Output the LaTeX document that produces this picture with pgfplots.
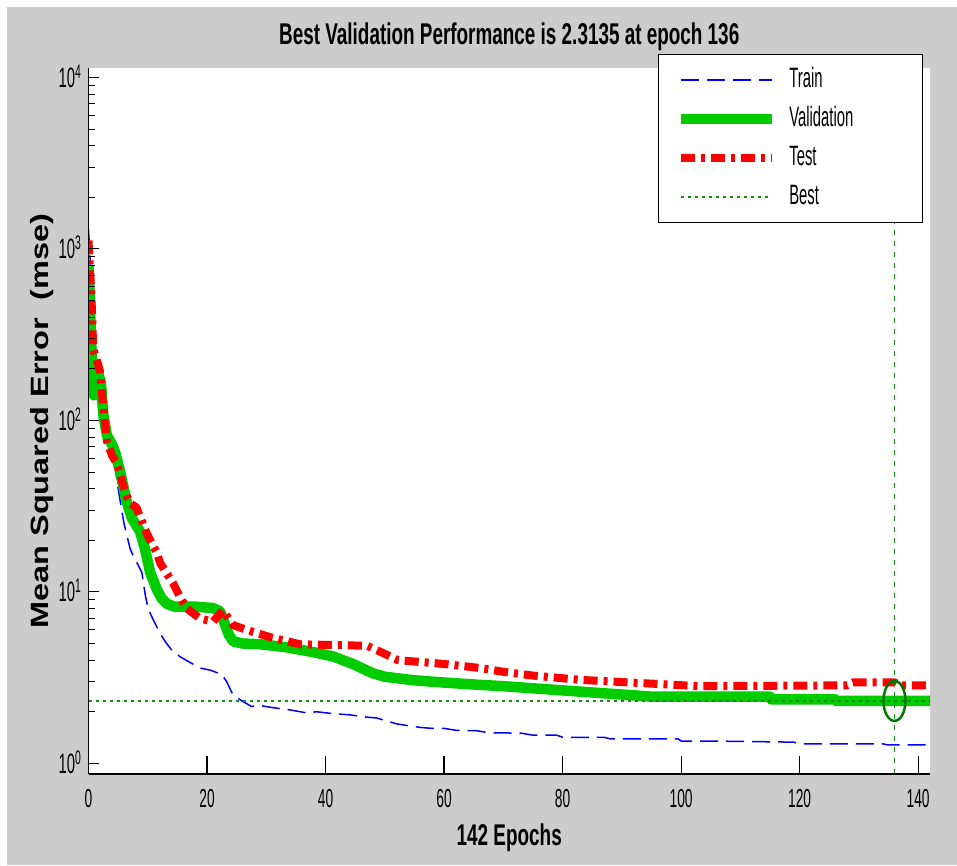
\documentclass[border=0pt]{standalone}
\usepackage{pgfplots}
\pgfplotsset{compat=1.18}
\usepackage{fontspec}
\setmainfont{Liberation Sans}
\newfontfamily\titlefnt{Liberation Sans}[FakeStretch=0.63]
\newfontfamily\narrowfnt{Liberation Sans}[FakeStretch=0.53]
\newfontfamily\ylabfnt{Liberation Sans}[FakeStretch=1.3]
\definecolor{bggray}{RGB}{204,204,204}
\definecolor{trainblue}{RGB}{0,0,255}
\definecolor{valgreen}{RGB}{0,204,0}
\definecolor{testred}{RGB}{255,0,0}
\definecolor{bestgreen}{RGB}{20,140,20}
\definecolor{circgreen}{RGB}{0,120,0}
\pgfdeclareplotmark{bestell}{%
  \pgfpathellipse{\pgfpointorigin}{\pgfqpoint{11pt}{0pt}}{\pgfqpoint{0pt}{20pt}}\pgfusepathqstroke}
\begin{document}
\begin{tikzpicture}
\fill[white] (0,0) rectangle (957pt,865pt);
\fill[bggray] (7pt,0) rectangle (957pt,858pt);
\begin{axis}[
  at={(88.5pt,91pt)}, anchor=south west,
  scale only axis, width=841.5pt, height=706pt,
  ymode=log, xmin=0, xmax=142, ymin=0.867, ymax=11350,
  axis background/.style={fill=white},
  axis x line*=bottom, axis y line*=left,
  axis line style={line width=1.3pt, black, -},
  tick align=inside,
  major tick length=18pt,
  xmajorticks=true,
  x tick style={draw=black, line width=1.2pt, solid},
  y tick style={draw=none},
  yminorticks=false,
  xtick={0,20,40,60,80,100,120,140},
  xticklabels={0,20,40,60,80,100,120,140},
  ytick={1,10,100,1000,10000},
  yticklabels={10\textsuperscript{0},10\textsuperscript{1},10\textsuperscript{2},10\textsuperscript{3},10\textsuperscript{4}},
  every x tick label/.style={font=\narrowfnt\fontsize{26pt}{26pt}\selectfont, anchor=base, yshift=-33pt, inner sep=0pt},
  every y tick label/.style={font=\narrowfnt\fontsize{28pt}{28pt}\selectfont, anchor=base east, xshift=-7pt, yshift=-10pt, inner sep=0pt},
  title={Best Validation Performance is 2.3135 at epoch 136},
  every axis title/.style={at={(axis description cs:0.5,1.0326)}, anchor=base, font=\titlefnt\bfseries\fontsize{30pt}{30pt}\selectfont},
  xlabel={142 Epochs},
  every axis x label/.style={at={(axis description cs:0.5,-0.1006)}, anchor=base, font=\titlefnt\bfseries\fontsize{30pt}{30pt}\selectfont},
  ylabel={Mean Squared Error\ \ (mse)},
  every axis y label/.style={at={(axis description cs:-0.0481,0.5)}, rotate=90, anchor=base, font=\ylabfnt\bfseries\fontsize{25pt}{25pt}\selectfont},
  legend style={at={(axis description cs:0.9917,1.0198)}, anchor=north east, draw=black, line width=1.2pt, fill=white,
    font=\narrowfnt\fontsize{28pt}{28pt}\selectfont, inner xsep=17pt, inner ysep=13pt, row sep=14pt, column sep=12pt,
    nodes={inner sep=0pt, text height=20pt, text depth=5pt}},
  legend cell align=left,
  legend image code/.code={\draw[#1, line cap=butt] (0pt,0pt) -- (91pt,0pt);},
]
\addplot[trainblue, line width=1.5pt, dash pattern=on 18pt off 8pt, line join=round] coordinates {
(0,1300) (0.5,620) (1,300) (2,150) (3,88) (3.6,67) (4.5,54) (5,40) (5.6,30) (6,25) (7,18) (7.6,16) (8.3,14.5) (9,13) (9.6,9.5) (10.1,7.9) (11,6.8) (12,5.8) (13,5.1) (14,4.6) (15.4,4.2) (17,3.9) (18.8,3.6) (20.5,3.5) (22.5,3.3) (23.3,3.0) (24.4,2.5) (26,2.3) (27.5,2.15) (29,2.17) (31.7,2.1) (34,2.05) (36.8,1.97) (38.5,2.0) (41.2,1.95) (44,1.92) (47,1.86) (48.6,1.84) (52,1.70) (53.4,1.67) (56,1.62) (58,1.60) (60,1.60) (62,1.56) (65.5,1.55) (67.5,1.51) (73,1.50) (75,1.46) (79,1.46) (80,1.42) (87,1.42) (88,1.39) (99.5,1.39) (100,1.35) (105,1.35) (119,1.33) (120,1.30) (134,1.30) (135,1.28) (142,1.28)};
\addlegendentry{Train}
\addplot[valgreen, line width=10.5pt, line join=round] coordinates {
(0,800) (0.3,400) (0.6,200) (0.9,140) (1.3,150) (1.7,185) (2.1,165) (2.5,108) (3.1,82) (4,72) (4.5,65) (5.3,51) (6.4,34) (7.3,27) (8.7,22.5) (9.5,18) (10.4,13) (11.5,10.4) (12.3,9.2) (13.3,8.5) (14.5,8.2) (18,8.2) (21,8.05) (22.2,7.7) (23,6.5) (23.7,5.6) (24.4,5.15) (26,5.0) (29,4.95) (33.5,4.75) (38,4.45) (41.3,4.2) (44.6,3.8) (48,3.35) (50,3.2) (55,3.05) (60,2.96) (66,2.87) (70,2.82) (75,2.74) (83,2.62) (90,2.52) (95,2.45) (115,2.45) (115.2,2.36) (126,2.36) (126.2,2.3135) (142,2.3135)};
\addlegendentry{Validation\hspace*{52pt}}
\addplot[testred, line width=8pt, dash pattern=on 14pt off 6pt on 4pt off 6pt, line join=round] coordinates {
(0,1120) (0.5,525) (0.8,260) (1.4,225) (1.9,196) (2.5,120) (3.1,76) (4,62) (4.8,56) (6.2,38) (7,33) (8.1,31) (9.8,22) (11.5,17) (12.1,14.7) (14.3,11.2) (15.4,9.4) (16.6,8.0) (18.8,7.0) (21,6.7) (22.7,7.8) (24.4,6.4) (26.7,6.0) (31,5.4) (35.7,4.95) (41,4.9) (47,4.85) (49.7,4.4) (52.2,4.0) (56,3.9) (60,3.8) (66,3.6) (70,3.42) (75,3.25) (83,3.07) (94,2.93) (103,2.82) (128,2.85) (129,2.97) (136,2.97) (137,2.85) (142,2.85)};
\addlegendentry{Test}
\addplot[bestgreen, line width=2.2pt, dash pattern=on 3pt off 4pt] coordinates {(0,2.3135) (142,2.3135)};
\addlegendentry{Best}
\addplot[bestgreen, line width=1.5pt, dash pattern=on 5pt off 6pt, forget plot] coordinates {(136,0.867) (136,11350)};
\addplot[only marks, mark=bestell, mark options={draw=circgreen, line width=2.5pt, solid}, forget plot] coordinates {(136,2.3135)};
\end{axis}
\begin{axis}[
  at={(88.5pt,91pt)}, anchor=south west,
  scale only axis, width=841.5pt, height=706pt,
  ymode=log, xmin=0, xmax=142, ymin=0.867, ymax=11350,
  axis x line=none, axis y line*=left,
  axis line style={line width=1.3pt, black, -},
  tick align=inside,
  major tick length=10pt, minor tick length=6pt,
  tick style={black, line width=1pt},
  xtick=\empty,
  ytick={1,10,100,1000,10000},
  yticklabels={},
]
\addplot[draw=none, forget plot] coordinates {(50,10)};
\end{axis}
\begin{axis}[
  at={(88.5pt,91pt)}, anchor=south west,
  scale only axis, width=841.5pt, height=706pt,
  xmin=0, xmax=142, ymin=0, ymax=1,
  axis x line*=bottom, axis y line=none,
  axis line style={line width=1.3pt, black, -},
  tick align=inside,
  major tick length=18pt,
  tick style={black, line width=1.2pt},
  xtick={0,20,40,60,80,100,120,140},
  xticklabels={},
  ytick=\empty,
]
\addplot[draw=none, forget plot] coordinates {(50,0.5)};
\end{axis}
\end{tikzpicture}
\end{document}
